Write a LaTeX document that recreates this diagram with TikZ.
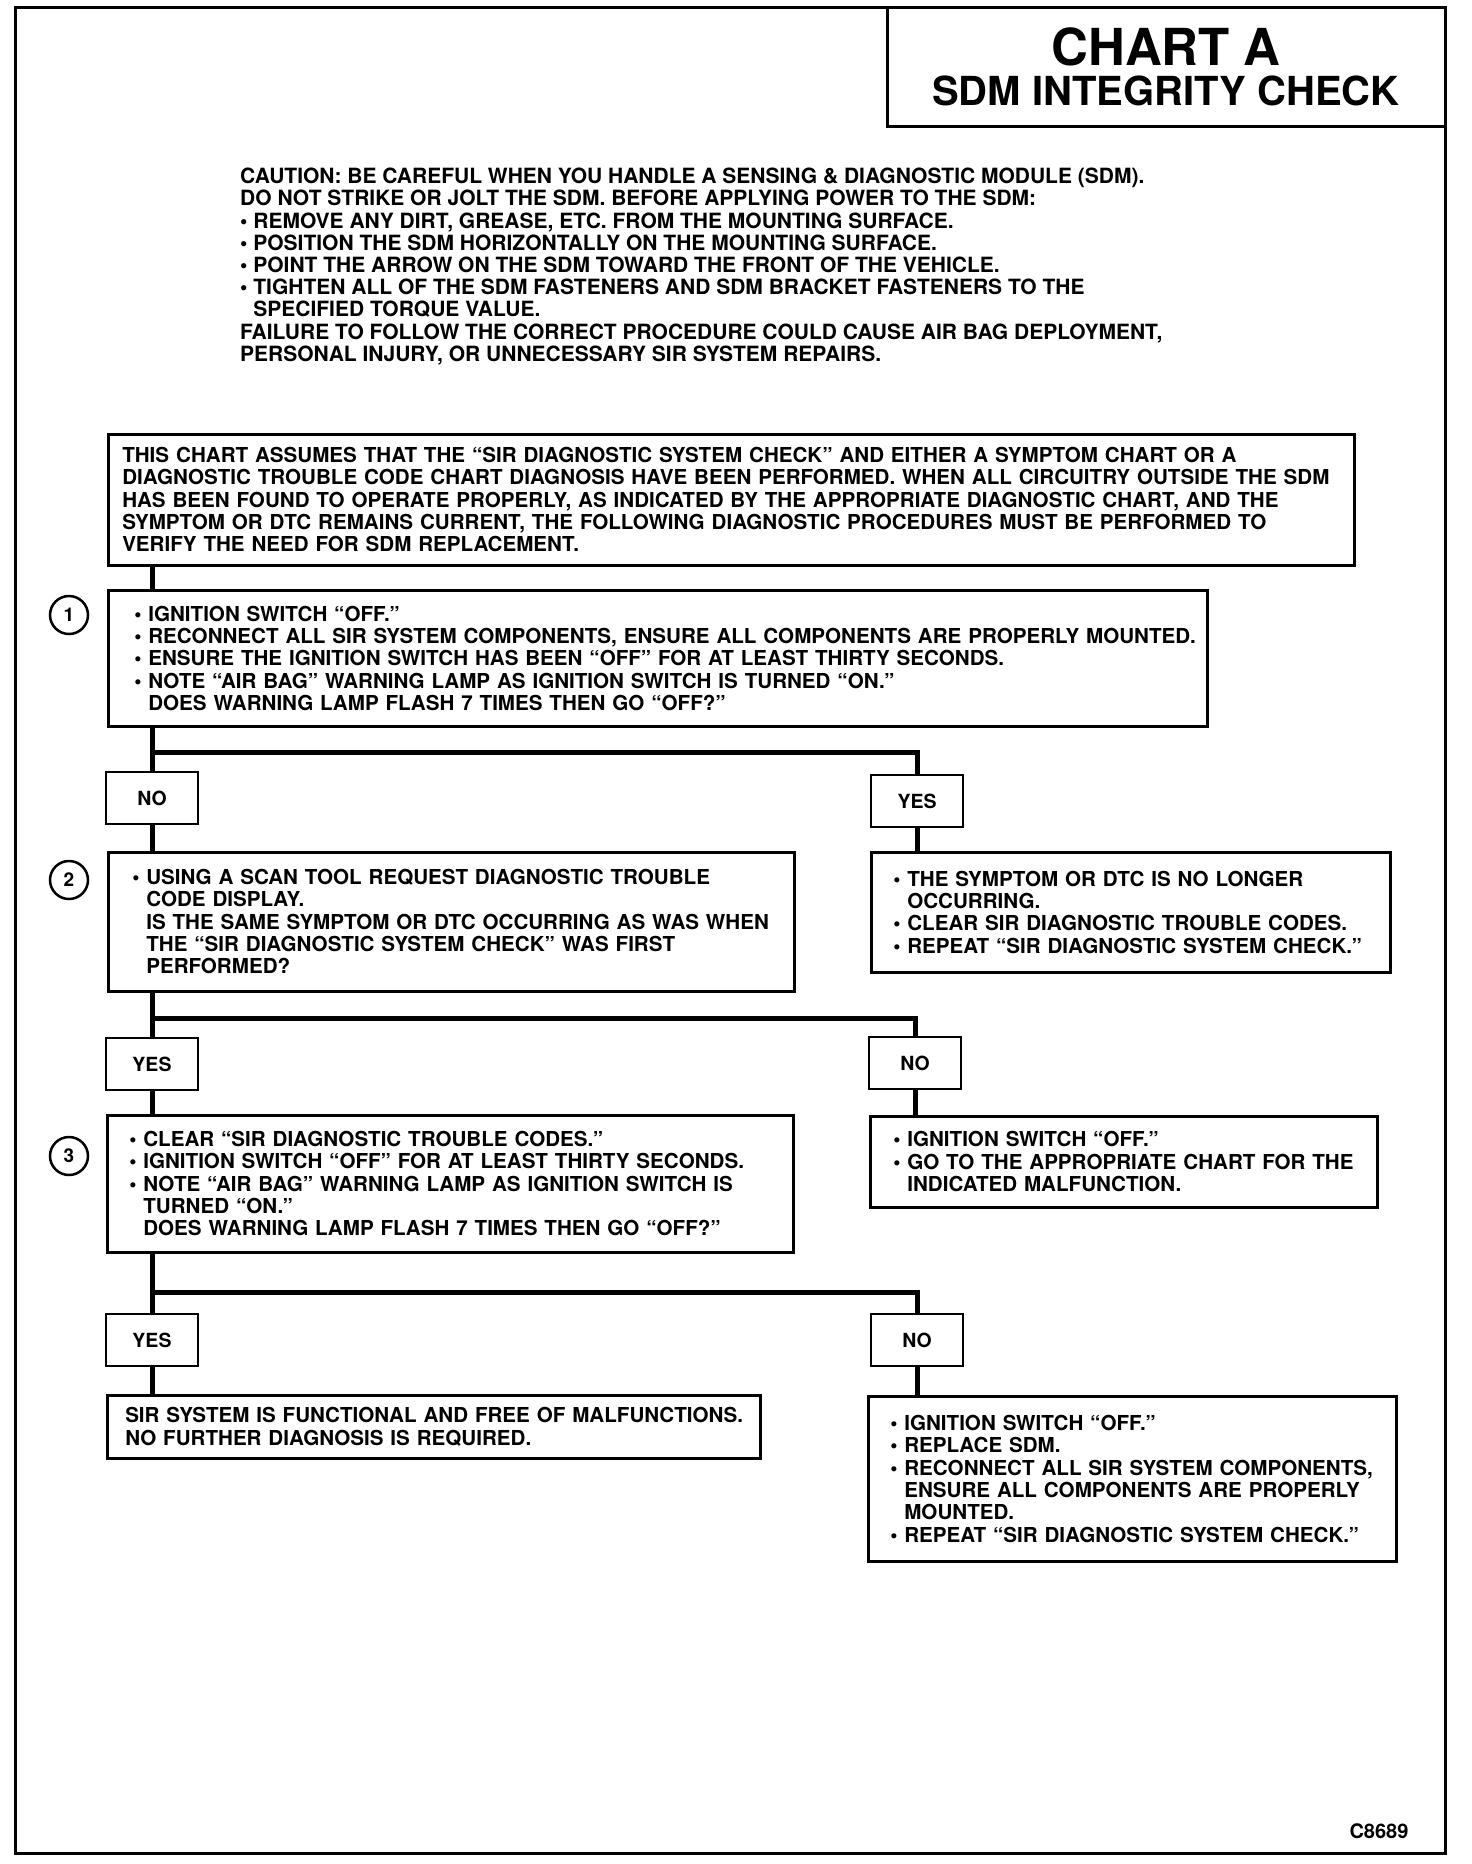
\documentclass[tikz,border=0pt]{standalone}
\usepackage{fontspec}
\setmainfont{TeX Gyre Heros}
\usetikzlibrary{positioning}

\newcommand\cautionfont{\fontsize{21}{22.2}\selectfont\bfseries}
\newcommand\boxfont{\fontsize{20.6}{22.3}\selectfont\bfseries}
\newcommand\bu{\textbullet\ }
\newcommand\hg{\phantom{\textbullet\ }}

\tikzset{
  stepbox/.style={draw, line width=2.5pt, anchor=north west, align=left,
    inner xsep=0pt, inner ysep=0pt, font=\boxfont},
  pad/.style={execute at begin node={\leftskip=#1pt\rightskip=-20pt plus 1fil}},
  ansbox/.style={draw, line width=2.5pt, minimum width=92pt, minimum height=52pt,
    inner sep=0pt, font=\fontsize{19.5}{20}\selectfont\bfseries},
  num/.style={circle, draw, line width=2.5pt, minimum size=38pt, inner sep=0pt,
    font=\fontsize{19}{20}\selectfont\bfseries},
  link/.style={line width=5pt}
}

\begin{document}
\begin{tikzpicture}[x=1pt,y=-1pt]
\useasboundingbox (0,0) rectangle (1472,1864);
\draw[line width=3pt] (15,7) rectangle (1445,1853);

% title
\node[draw, line width=3pt, minimum width=558pt, minimum height=119pt, inner sep=0pt,
  align=center, font=\fontsize{40}{40}\selectfont\bfseries] (title) at (1166,66.5)
  {{\fontsize{51}{44}\selectfont CHART A}\\
   SDM INTEGRITY CHECK};

% caution
\node[anchor=north west, align=left, inner sep=0pt, font=\cautionfont] (caution) at (240,168)
  {CAUTION: BE CAREFUL WHEN YOU HANDLE A SENSING \& DIAGNOSTIC MODULE (SDM).\\
   DO NOT STRIKE OR JOLT THE SDM. BEFORE APPLYING POWER TO THE SDM:\\
   \bu REMOVE ANY DIRT, GREASE, ETC. FROM THE MOUNTING SURFACE.\\
   \bu POSITION THE SDM HORIZONTALLY ON THE MOUNTING SURFACE.\\
   \bu POINT THE ARROW ON THE SDM TOWARD THE FRONT OF THE VEHICLE.\\
   \bu TIGHTEN ALL OF THE SDM FASTENERS AND SDM BRACKET FASTENERS TO THE\\
   \hg SPECIFIED TORQUE VALUE.\\
   FAILURE TO FOLLOW THE CORRECT PROCEDURE COULD CAUSE AIR BAG DEPLOYMENT,\\
   PERSONAL INJURY, OR UNNECESSARY SIR SYSTEM REPAIRS.};

% boxes
\node[stepbox, pad=14, text width=1246pt, minimum height=131pt] (assume) at (107,433)
  {THIS CHART ASSUMES THAT THE “SIR DIAGNOSTIC SYSTEM CHECK” AND EITHER A SYMPTOM CHART OR A\\
   DIAGNOSTIC TROUBLE CODE CHART DIAGNOSIS HAVE BEEN PERFORMED. WHEN ALL CIRCUITRY OUTSIDE THE SDM\\
   HAS BEEN FOUND TO OPERATE PROPERLY, AS INDICATED BY THE APPROPRIATE DIAGNOSTIC CHART, AND THE\\
   SYMPTOM OR DTC REMAINS CURRENT, THE FOLLOWING DIAGNOSTIC PROCEDURES MUST BE PERFORMED TO\\
   VERIFY THE NEED FOR SDM REPLACEMENT.};

\node[stepbox, pad=26, text width=1099pt, minimum height=136pt] (step1) at (107,589)
  {\bu IGNITION SWITCH “OFF.”\\
   \bu RECONNECT ALL SIR SYSTEM COMPONENTS, ENSURE ALL COMPONENTS ARE PROPERLY MOUNTED.\\
   \bu ENSURE THE IGNITION SWITCH HAS BEEN “OFF” FOR AT LEAST THIRTY SECONDS.\\
   \bu NOTE “AIR BAG” WARNING LAMP AS IGNITION SWITCH IS TURNED “ON.”\\
   \hg DOES WARNING LAMP FLASH 7 TIMES THEN GO “OFF?”};
\node[num] (n1) at (69,615) {1};

\node[ansbox] (no1) at (152,798) {NO};
\node[ansbox] (yes1) at (917,801) {YES};

\node[stepbox, pad=24, text width=686pt, minimum height=139pt] (step2) at (107,851)
  {\bu USING A SCAN TOOL REQUEST DIAGNOSTIC TROUBLE\\
   \hg CODE DISPLAY.\\
   \hg IS THE SAME SYMPTOM OR DTC OCCURRING AS WAS WHEN\\
   \hg THE “SIR DIAGNOSTIC SYSTEM CHECK” WAS FIRST\\
   \hg PERFORMED?};
\node[num] (n2) at (69,880) {2};

\node[stepbox, pad=22, text width=519pt, minimum height=120pt] (gone) at (870,851)
  {\bu THE SYMPTOM OR DTC IS NO LONGER\\
   \hg OCCURRING.\\
   \bu CLEAR SIR DIAGNOSTIC TROUBLE CODES.\\
   \bu REPEAT “SIR DIAGNOSTIC SYSTEM CHECK.”};

\node[ansbox] (yes2) at (152,1064) {YES};
\node[ansbox] (no2) at (915,1063) {NO};

\node[stepbox, pad=22, text width=686pt, minimum height=137pt] (step3) at (106,1114)
  {\bu CLEAR “SIR DIAGNOSTIC TROUBLE CODES.”\\
   \bu IGNITION SWITCH “OFF” FOR AT LEAST THIRTY SECONDS.\\
   \bu NOTE “AIR BAG” WARNING LAMP AS IGNITION SWITCH IS\\
   \hg TURNED “ON.”\\
   \hg DOES WARNING LAMP FLASH 7 TIMES THEN GO “OFF?”};
\node[num] (n3) at (69,1156) {3};

\node[stepbox, pad=23, text width=507pt, minimum height=91pt] (other) at (869,1115)
  {\bu IGNITION SWITCH “OFF.”\\
   \bu GO TO THE APPROPRIATE CHART FOR THE\\
   \hg INDICATED MALFUNCTION.};

\node[ansbox] (yes3) at (152,1340) {YES};
\node[ansbox] (no3) at (917,1340) {NO};

\node[stepbox, pad=18, text width=653pt, minimum height=63pt] (okay) at (106,1394)
  {SIR SYSTEM IS FUNCTIONAL AND FREE OF MALFUNCTIONS.\\
   NO FURTHER DIAGNOSIS IS REQUIRED.};

\node[stepbox, pad=22, text width=528pt, minimum height=165pt] (replace) at (867,1395)
  {\bu IGNITION SWITCH “OFF.”\\
   \bu REPLACE SDM.\\
   \bu RECONNECT ALL SIR SYSTEM COMPONENTS,\\
   \hg ENSURE ALL COMPONENTS ARE PROPERLY\\
   \hg MOUNTED.\\
   \bu REPEAT “SIR DIAGNOSTIC SYSTEM CHECK.”};

\node[font=\fontsize{20}{20}\selectfont\bfseries] (code) at (1379,1831) {C8689};

% connectors
\coordinate (br1) at (152,752);
\coordinate (br2) at (152,1018);
\coordinate (br3) at (152,1292);
\draw[link] (assume.south -| no1) -- (step1.north -| no1);
\draw[link] (step1.south -| no1) -- (no1.north);
\draw[link] (br1) -| (yes1.north);
\draw[link] (no1.south) -- (step2.north -| no1);
\draw[link] (yes1.south) -- (gone.north -| yes1);
\draw[link] (step2.south -| yes2) -- (yes2.north);
\draw[link] (br2) -| (no2.north);
\draw[link] (yes2.south) -- (step3.north -| yes2);
\draw[link] (no2.south) -- (other.north -| no2);
\draw[link] (step3.south -| yes3) -- (yes3.north);
\draw[link] (br3) -| (no3.north);
\draw[link] (yes3.south) -- (okay.north -| yes3);
\draw[link] (no3.south) -- (replace.north -| no3);
\end{tikzpicture}
\end{document}
